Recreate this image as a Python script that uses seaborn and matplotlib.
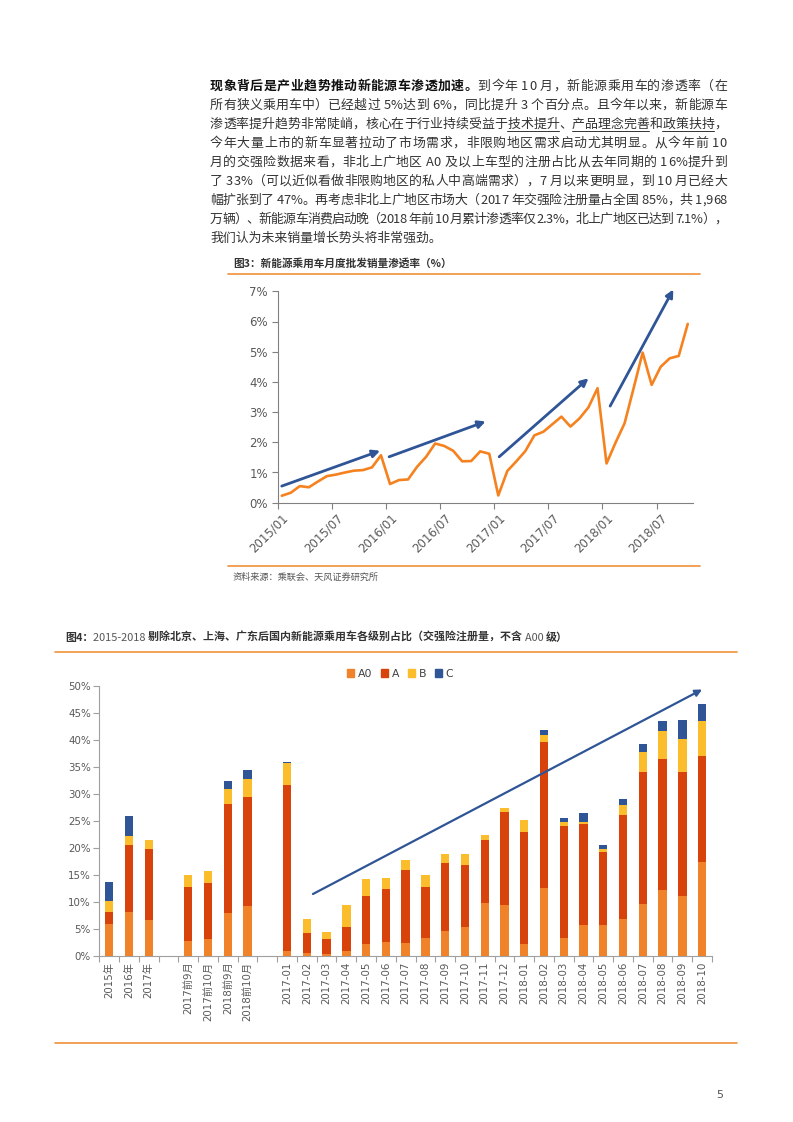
import matplotlib
matplotlib.use('Agg')
import matplotlib.pyplot as plt
from matplotlib.lines import Line2D
from matplotlib.patches import Patch
from matplotlib.font_manager import FontProperties
import numpy as np
import pandas as pd
import seaborn as sns

W, H = 793, 1122
CJK = ['Noto Sans CJK SC', 'DejaVu Sans']
ORANGE_RULE = '#F0913A'

# chart 1: monthly penetration rate (%), 2015/01 - 2018/10
penetration = [0.23, 0.33, 0.55, 0.51, 0.70, 0.88, 0.93, 1.00, 1.06, 1.08, 1.17, 1.57,
               0.62, 0.75, 0.77, 1.19, 1.52, 1.96, 1.88, 1.72, 1.37, 1.38, 1.70, 1.62,
               0.24, 1.05, 1.37, 1.71, 2.23, 2.35, 2.60, 2.85, 2.52, 2.79, 3.16, 3.79,
               1.30, 1.99, 2.63, 3.79, 4.97, 3.90, 4.50, 4.78, 4.86, 5.92]
month_ticks = ['2015/01', '2015/07', '2016/01', '2016/07', '2017/01', '2017/07', '2018/01', '2018/07']

# chart 2: share by class (%), blanks are gaps
cats = ['2015年', '2016年', '2017年', ' ', '2017前9月', '2017前10月', '2018前9月', '2018前10月', '  ',
        '2017-01', '2017-02', '2017-03', '2017-04', '2017-05', '2017-06', '2017-07', '2017-08',
        '2017-09', '2017-10', '2017-11', '2017-12', '2018-01', '2018-02', '2018-03', '2018-04',
        '2018-05', '2018-06', '2018-07', '2018-08', '2018-09', '2018-10']
n = np.nan
a0 = [5.9, 8.15, 6.7, n, 2.7, 3.1, 7.9, 9.3, n,
      0.9, 0.55, 0.4, 0.9, 2.2, 2.6, 2.4, 3.4, 4.6, 5.4, 9.9, 9.4,
      2.2, 12.6, 3.4, 5.7, 5.8, 6.9, 9.6, 12.2, 11.1, 17.4]
a = [2.25, 12.45, 13.2, n, 10.1, 10.5, 20.3, 20.2, n,
     30.7, 3.75, 2.8, 4.5, 8.9, 9.9, 13.5, 9.4, 12.6, 11.4, 11.6, 17.3,
     20.8, 27.0, 20.7, 18.7, 13.5, 19.2, 24.4, 24.2, 22.9, 19.6]
b = [1.95, 1.6, 1.5, n, 2.2, 2.1, 2.7, 3.2, n,
     4.1, 2.55, 1.25, 4.0, 3.1, 1.9, 1.9, 2.2, 1.6, 2.0, 1.0, 0.8,
     2.1, 1.3, 0.8, 0.5, 0.6, 1.9, 3.7, 5.3, 6.1, 6.6]
c = [3.6, 3.8, 0.1, n, 0, 0, 1.5, 1.7, n,
     0.2, 0, 0, 0, 0, 0, 0, 0, 0, 0, 0, 0,
     0.1, 1.0, 0.7, 1.6, 0.7, 1.0, 1.5, 1.9, 3.6, 3.0]
classes = ['A0', 'A', 'B', 'C']
class_colors = ['#F0832A', '#D8430B', '#FBBD2C', '#2F5597']

sns.set_theme(style='white')
plt.rcParams['font.family'] = ['DejaVu Sans', 'Noto Sans CJK SC']

fig = plt.figure(figsize=(W / 100, H / 100), dpi=100)
rend = fig.canvas.get_renderer()


def fx(px):
    return px / W


def fy(py):
    return 1 - py / H


_wcache = {}


def text_w(s, size, weight):
    # width in px, measured between two x's so that spaces count
    key = (s, size, weight)
    if key not in _wcache:
        t1 = fig.text(0, 0, 'x' + s + 'x', fontsize=size, fontweight=weight, family=CJK)
        t2 = fig.text(0, 0, 'xx', fontsize=size, fontweight=weight, family=CJK)
        _wcache[key] = t1.get_window_extent(rend).width - t2.get_window_extent(rend).width
        t1.remove()
        t2.remove()
    return _wcache[key]


def base_shift(ch, size, weight):
    # Agg snaps each glyph bitmap to whole pixels; work out the 1px error so single
    # characters drawn one by one keep a common baseline
    try:
        from matplotlib.backends.backend_agg import get_hinting_flag
        font = rend._prepare_font(FontProperties(family=CJK, size=size, weight=weight))
        font.set_text(ch, 0, flags=get_hinting_flag())
        d = font.get_descent() / 64
        h = font.get_width_height()[1] / 64
        return round(d) - int(h) + int(h - d)
    except Exception:
        return 0


def put_runs(px, py, parts, size, color, right=None):
    # parts: (text, weight, underline, colour); py is the baseline; justify to `right` px if given
    py = round(py)
    if right is None:
        # no justification: draw each run whole
        x = px
        for s, weight, ul, col in parts:
            fig.text(fx(x), fy(py), s, fontsize=size, fontweight=weight, color=col or color,
                     family=CJK, va='baseline', ha='left')
            x += text_w(s, size, weight)
        return
    chars = []
    for s, weight, ul, col in parts:
        for ch in s:
            chars.append((ch, weight, ul, col or color, text_w(ch, size, weight)))
    gap = (right - px - sum(ch[4] for ch in chars)) / (len(chars) - 1)
    x = px
    for i, (ch, weight, ul, col, w) in enumerate(chars):
        if ch != ' ':
            dy = base_shift(ch, size, weight)
            fig.text(fx(x), fy(py - dy), ch, fontsize=size, fontweight=weight, color=col,
                     family=CJK, va='baseline', ha='left')
        if ul:
            extra = gap if i + 1 < len(chars) and chars[i + 1][2] else 0
            fig.add_artist(Line2D([fx(x), fx(x + w + extra)], [fy(py + 2.5)] * 2, color=col, lw=0.7))
        x += w + gap


def rule(x0, x1, py):
    fig.add_artist(Line2D([fx(x0), fx(x1)], [fy(py)] * 2, color=ORANGE_RULE, lw=1.2))


# paragraph
body = '#333333'
lines = [
    [('现象背后是产业趋势推动新能源车渗透加速。', 'bold', False, '#111111'),
     ('到今年 10 月，新能源乘用车的渗透率（在', 'normal', False, None)],
    [('所有狭义乘用车中）已经越过 5%达到 6%，同比提升 3 个百分点。且今年以来，新能源车', 'normal', False, None)],
    [('渗透率提升趋势非常陡峭，核心在于行业持续受益于', 'normal', False, None),
     ('技术提升', 'normal', True, None), ('、', 'normal', False, None),
     ('产品理念完善', 'normal', True, None), ('和', 'normal', False, None),
     ('政策扶持', 'normal', True, None), ('，', 'normal', False, None)],
    [('今年大量上市的新车显著拉动了市场需求，非限购地区需求启动尤其明显。从今年前 10', 'normal', False, None)],
    [('月的交强险数据来看，非北上广地区 A0 及以上车型的注册占比从去年同期的 16%提升到', 'normal', False, None)],
    [('了 33%（可以近似看做非限购地区的私人中高端需求），7 月以来更明显，到 10 月已经大', 'normal', False, None)],
    [('幅扩张到了 47%。再考虑非北上广地区市场大（2017 年交强险注册量占全国 85%，共 1,968', 'normal', False, None)],
    [('万辆）、新能源车消费启动晚（2018 年前 10 月累计渗透率仅 2.3%，北上广地区已达到 7.1%），', 'normal', False, None)],
    [('我们认为未来销量增长势头将非常强劲。', 'normal', False, None)],
]
for k, parts in enumerate(lines):
    put_runs(210, 90.5 + k * 18.9, parts, 9.3, body, right=None if k == len(lines) - 1 else 727)

# ---- chart 1 ----
put_runs(233, 267, [('图3：新能源乘用车月度批发销量渗透率（%）', 'bold', False, '#333333')], 7.7, body)
rule(228, 700, 274)
rule(228, 700, 566)
fig.text(fx(233), fy(577), '资料来源：乘联会、天风证券研究所', fontsize=6.6, color='#555555',
         family=CJK, va='center')

ax1 = fig.add_axes([fx(277.7), fy(502.7), (692.7 - 277.7) / W, (502.7 - 291.3) / H])
sns.lineplot(x=np.arange(len(penetration)), y=penetration, ax=ax1, color='#F5821F', lw=1.9)
ax1.set_xlim(-0.45, 45.55)
ax1.set_ylim(0, 7)
ax1.set_yticks(range(8))
ax1.set_yticklabels([f'{v}%' for v in range(8)], fontsize=8.5, color='#595959')
ax1.set_xticks(np.arange(0, 46, 6))
ax1.set_xticklabels(month_ticks, rotation=45, ha='right', rotation_mode='anchor',
                    fontsize=8.5, color='#595959')
ax1.set_xticks(np.arange(0, 46, 6) - 0.45, minor=True)
ax1.tick_params(axis='x', which='major', length=0, pad=6)
ax1.tick_params(axis='x', which='minor', length=4, width=0.8, color='#808080', bottom=True)
ax1.tick_params(axis='y', length=4, width=0.8, color='#808080', left=True, pad=3)
for s in ['top', 'right']:
    ax1.spines[s].set_visible(False)
for s in ['left', 'bottom']:
    ax1.spines[s].set_color('#808080')
    ax1.spines[s].set_linewidth(0.8)
ax1.set_xlabel('')
ax1.set_ylabel('')

arrows1 = [((0, 0.55), (10.9, 1.72)), ((11.9, 1.52), (22.6, 2.69)),
           ((24.1, 1.52), (34.0, 4.12)), ((36.4, 3.20), (43.4, 7.06))]
for (x0, y0), (x1, y1) in arrows1:
    ax1.annotate('', xy=(x1, y1), xytext=(x0, y0), annotation_clip=False,
                 arrowprops=dict(arrowstyle='-|>', color='#2F5597', lw=2,
                                 mutation_scale=11, shrinkA=0, shrinkB=0))

# ---- chart 2 ----
put_runs(65, 641, [('图4：', 'bold', False, '#333333'), ('2015-2018 ', 'normal', False, '#555555'),
                   ('剔除北京、上海、广东后国内新能源乘用车各级别占比（交强险注册量，不含 ', 'bold', False, '#333333'),
                   ('A00 ', 'normal', False, '#555555'), ('级）', 'bold', False, '#333333')], 7.9, body)
rule(55, 737, 652)
rule(55, 737, 1043)

ax2 = fig.add_axes([fx(99.3), fy(956), (712 - 99.3) / W, 270 / H])
df = pd.DataFrame({'cat': cats, 'A0': a0, 'A': a, 'B': b, 'C': c})
layers = df[classes].cumsum(axis=1)
for cls, col in reversed(list(zip(classes, class_colors))):
    sns.barplot(x=df['cat'], y=layers[cls], order=cats, color=col, width=0.42,
                errorbar=None, ax=ax2, saturation=1, edgecolor='none')
ax2.set_xlim(-0.5, len(cats) - 0.5)
ax2.set_ylim(0, 50)
ax2.set_yticks(range(0, 51, 5))
ax2.set_yticklabels([f'{v}%' for v in range(0, 51, 5)], fontsize=7.4, color='#595959')
ax2.set_xticks(range(len(cats)))
ax2.set_xticklabels(cats, rotation=90, fontsize=7.4, color='#595959')
ax2.set_xticks(np.arange(-0.5, len(cats), 1), minor=True)
ax2.tick_params(axis='x', which='major', length=0, pad=4)
ax2.tick_params(axis='x', which='minor', length=4, width=0.8, color='#a0a0a0', bottom=True)
ax2.tick_params(axis='y', length=4, width=0.8, color='#a0a0a0', left=True, pad=2)
for s in ['top', 'right']:
    ax2.spines[s].set_visible(False)
for s in ['left', 'bottom']:
    ax2.spines[s].set_color('#a0a0a0')
    ax2.spines[s].set_linewidth(0.8)
ax2.set_xlabel('')
ax2.set_ylabel('')

ax2.annotate('', xy=(30.0, 49.35), xytext=(10.31, 11.48), annotation_clip=False,
             arrowprops=dict(arrowstyle='-|>', color='#2F5597', lw=1.6,
                             mutation_scale=10, shrinkA=0, shrinkB=0))

handles = [Patch(color=col, label=cls) for cls, col in zip(classes, class_colors)]
fig.legend(handles=handles, loc='center', bbox_to_anchor=(fx(400), fy(674)), ncol=4,
           frameon=False, fontsize=7.8, handlelength=0.7, handleheight=0.7,
           handletextpad=0.3, columnspacing=0.8, labelcolor='#404040')

fig.text(fx(720), fy(1095), '5', fontsize=8, color='#555555', ha='center', va='center')

fig.savefig('out.png', dpi=100)
